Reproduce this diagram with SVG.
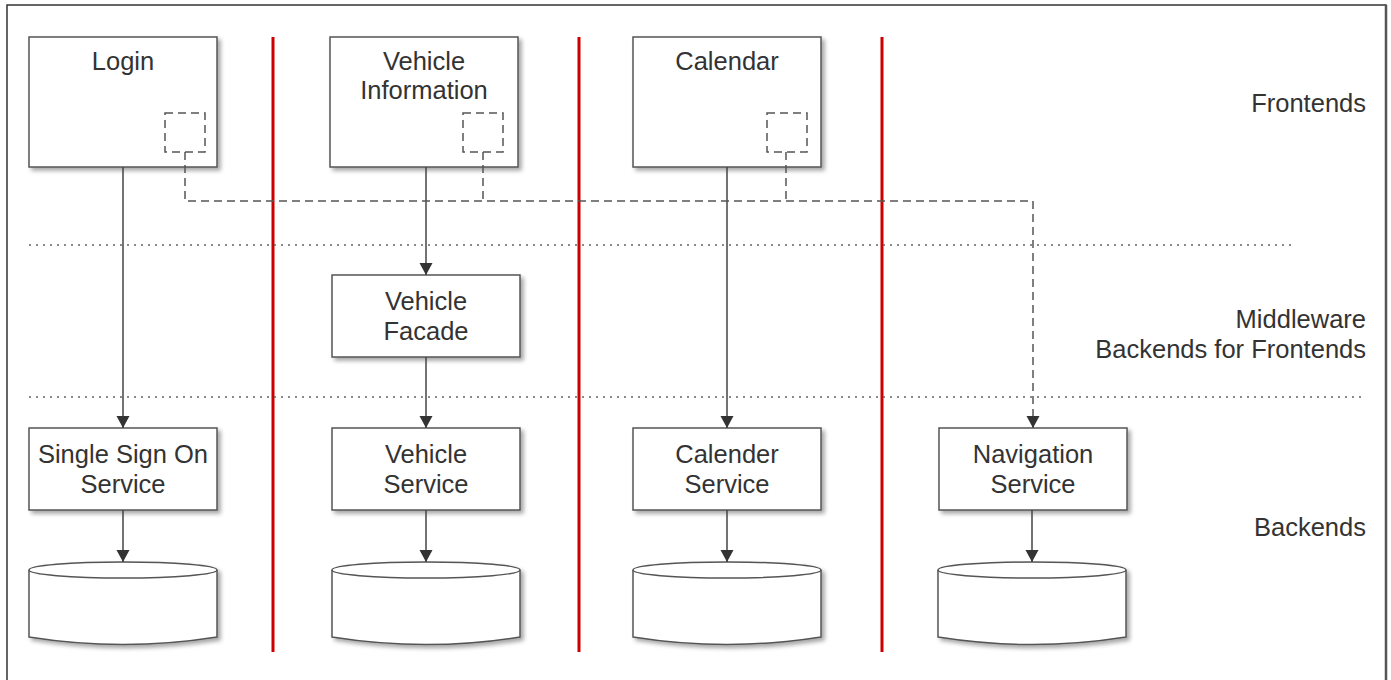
<svg xmlns="http://www.w3.org/2000/svg" width="1391" height="680" viewBox="0 0 1391 680">
  <defs>
    <filter id="shadow" x="-10%" y="-10%" width="125%" height="130%">
      <feDropShadow dx="3" dy="3" stdDeviation="2" flood-color="#000" flood-opacity="0.35"/>
    </filter>
    <marker id="arrow" viewBox="0 0 12 15" refX="12" refY="7.5" markerWidth="12" markerHeight="15" markerUnits="userSpaceOnUse" orient="auto">
      <path d="M0,1 L12,7.5 L0,14 Z" fill="#333"/>
    </marker>
  </defs>
  <style>
    .box { fill: #fff; stroke: #555; stroke-width: 1.5; filter: url(#shadow); }
    .port { fill: none; stroke: #555; stroke-width: 1.5; stroke-dasharray: 8 5; }
    .lbl { font-family: "Liberation Sans", Arial, sans-serif; font-size: 25.5px; fill: #333; text-anchor: middle; }
    .tier { font-family: "Liberation Sans", Arial, sans-serif; font-size: 25.5px; fill: #333; text-anchor: end; }
    .link { fill: none; stroke: #444; stroke-width: 1.5; marker-end: url(#arrow); }
    .dashlink { fill: none; stroke: #555; stroke-width: 1.5; stroke-dasharray: 8 5; }
    .sep { stroke: #c00; stroke-width: 3; }
    .layer { stroke: #666; stroke-width: 1.5; stroke-dasharray: 2 5; }
  </style>

  <rect width="1391" height="680" fill="#fff"/>
  <!-- outer frame (open at the bottom) -->
  <path d="M7,680 V5 H1386 V680" fill="none" stroke="#333" stroke-width="1.5"/>
  <line x1="1386" y1="5" x2="1386" y2="680" stroke="#555" stroke-width="2.5"/>

  <!-- column separators -->
  <g id="separators">
    <line class="sep" x1="273" y1="37" x2="273" y2="652"/>
    <line class="sep" x1="579" y1="37" x2="579" y2="652"/>
    <line class="sep" x1="882" y1="37" x2="882" y2="652"/>
  </g>

  <!-- layer boundaries -->
  <g id="layers">
    <line class="layer" x1="29" y1="245" x2="1296" y2="245"/>
    <line class="layer" x1="29" y1="397" x2="1366" y2="397"/>
  </g>

  <!-- tier labels -->
  <g id="tier-labels">
    <text class="tier" x="1366" y="112">Frontends</text>
    <text class="tier" x="1366" y="328">Middleware</text>
    <text class="tier" x="1366" y="358">Backends for Frontends</text>
    <text class="tier" x="1366" y="536">Backends</text>
  </g>

  <!-- frontends -->
  <g id="login">
    <rect class="box" x="29" y="37" width="188" height="130"/>
    <rect class="port" x="165" y="113" width="40" height="39"/>
    <text class="lbl" x="123" y="70">Login</text>
  </g>
  <g id="vehicle-information">
    <rect class="box" x="330" y="37" width="188" height="130"/>
    <rect class="port" x="463" y="113" width="40" height="39"/>
    <text class="lbl" x="424" y="70">Vehicle</text>
    <text class="lbl" x="424" y="99">Information</text>
  </g>
  <g id="calendar">
    <rect class="box" x="633" y="37" width="188" height="130"/>
    <rect class="port" x="767" y="113" width="40" height="39"/>
    <text class="lbl" x="727" y="70">Calendar</text>
  </g>

  <!-- middleware -->
  <g id="vehicle-facade">
    <rect class="box" x="332" y="275" width="188" height="82"/>
    <text class="lbl" x="426" y="310">Vehicle</text>
    <text class="lbl" x="426" y="340">Facade</text>
  </g>

  <!-- backends -->
  <g id="single-sign-on-service">
    <rect class="box" x="29" y="428" width="188" height="82"/>
    <text class="lbl" x="123" y="463">Single Sign On</text>
    <text class="lbl" x="123" y="493">Service</text>
  </g>
  <g id="vehicle-service">
    <rect class="box" x="332" y="428" width="188" height="82"/>
    <text class="lbl" x="426" y="463">Vehicle</text>
    <text class="lbl" x="426" y="493">Service</text>
  </g>
  <g id="calender-service">
    <rect class="box" x="633" y="428" width="188" height="82"/>
    <text class="lbl" x="727" y="463">Calender</text>
    <text class="lbl" x="727" y="493">Service</text>
  </g>
  <g id="navigation-service">
    <rect class="box" x="939" y="428" width="188" height="82"/>
    <text class="lbl" x="1033" y="463">Navigation</text>
    <text class="lbl" x="1033" y="493">Service</text>
  </g>

  <!-- data stores -->
  <g id="sso-db">
    <path class="box" d="M29,570 A94,8 0 0 1 217,570 V637 Q123,652 29,637 Z"/>
    <path d="M29,570 A94,8 0 0 0 217,570" fill="none" stroke="#555" stroke-width="1.5"/>
  </g>
  <g id="vehicle-db">
    <path class="box" d="M332,570 A94,8 0 0 1 520,570 V637 Q426,652 332,637 Z"/>
    <path d="M332,570 A94,8 0 0 0 520,570" fill="none" stroke="#555" stroke-width="1.5"/>
  </g>
  <g id="calender-db">
    <path class="box" d="M633,570 A94,8 0 0 1 821,570 V637 Q727,652 633,637 Z"/>
    <path d="M633,570 A94,8 0 0 0 821,570" fill="none" stroke="#555" stroke-width="1.5"/>
  </g>
  <g id="navigation-db">
    <path class="box" d="M938,570 A94,8 0 0 1 1126,570 V637 Q1032,652 938,637 Z"/>
    <path d="M938,570 A94,8 0 0 0 1126,570" fill="none" stroke="#555" stroke-width="1.5"/>
  </g>

  <!-- connectors -->
  <g id="connectors">
    <path class="link" d="M123,167 V428"/>
    <path class="link" d="M426,167 V275"/>
    <path class="link" d="M426,357 V428"/>
    <path class="link" d="M727,167 V428"/>
    <path class="link" d="M123,510 V562"/>
    <path class="link" d="M426,510 V562"/>
    <path class="link" d="M727,510 V562"/>
    <path class="link" d="M1032,510 V562"/>
    <!-- shared navigation link from every frontend port -->
    <path class="dashlink" d="M185,152 V201 H1033 V416"/>
    <path class="dashlink" d="M483,152 V201"/>
    <path class="dashlink" d="M786,152 V201"/>
    <path d="M1033,416 V428" stroke="#555" stroke-width="1.5" marker-end="url(#arrow)"/>
  </g>
</svg>
